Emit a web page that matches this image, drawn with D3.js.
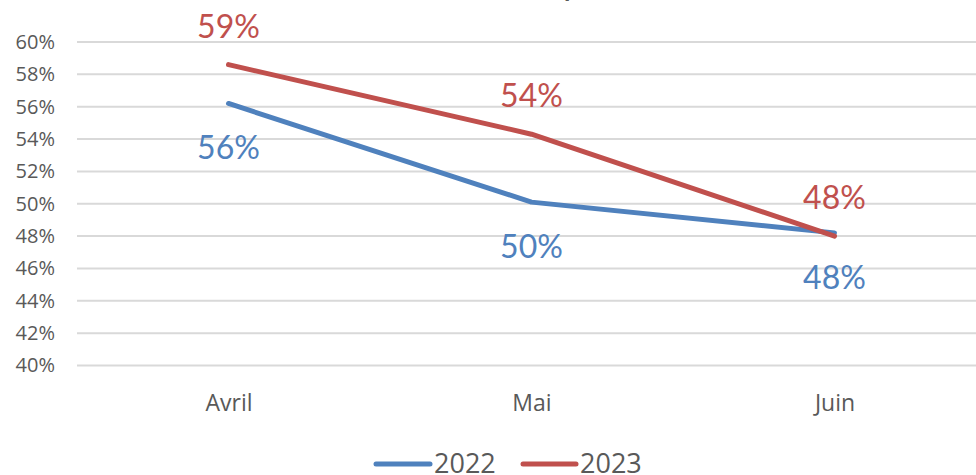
<!DOCTYPE html>
<html>
<head>
<meta charset="utf-8">
<script src="https://cdn.jsdelivr.net/npm/d3@7"></script>
<style>
  body { margin: 0; background: #fff; }
  svg { display: block; font-family: Lato, "Open Sans", sans-serif; }
</style>
</head>
<body>
<div id="chart"></div>
<script>
// chart data
const months = ["Avril", "Mai", "Juin"];
const seriesNames = ["2022", "2023"];
const values2022 = [56.2, 50.1, 48.2];
const values2023 = [58.6, 54.3, 48.0];
const yTicks = [40, 42, 44, 46, 48, 50, 52, 54, 56, 58, 60];
const titleText = "Taux d'occupation";

const width = 976, height = 475;
const colors = { "2022": "#4f81bd", "2023": "#c0504d" };

const svg = d3.select("#chart")
  .append("svg")
  .attr("width", width)
  .attr("height", height);

// scales
const x = d3.scalePoint()
  .domain(months)
  .range([77, 986])
  .padding(0.5);
const y = d3.scaleLinear()
  .domain([40, 60])
  .range([365.5, 42]);

// title, mostly cut off at the top of the picture
const title = svg.append("text")
  .attr("y", -3)
  .attr("fill", "#595959")
  .style("font-size", "26px")
  .style("font-weight", "bold")
  .text(titleText);
const pIdx = titleText.indexOf("p");
const pX = title.node().getStartPositionOfChar(pIdx).x;
title.attr("x", 564 - pX);

// gridlines
svg.append("g")
  .selectAll("line")
  .data(yTicks)
  .enter()
  .append("line")
  .attr("x1", 77)
  .attr("x2", width)
  .attr("y1", d => y(d))
  .attr("y2", d => y(d))
  .attr("stroke", "#d9d9d9")
  .attr("stroke-width", 2);

// y axis labels
const yAxis = svg.append("g")
  .attr("transform", "translate(55,0)")
  .call(d3.axisLeft(y).tickValues(yTicks).tickSize(0).tickPadding(0).tickFormat(d => d + "%"));
yAxis.select(".domain").remove();
yAxis.selectAll("text")
  .attr("fill", "#595959")
  .style("font-size", "20px")
  .style("font-family", "'Open Sans', sans-serif");

// x axis labels
const xAxis = svg.append("g")
  .attr("transform", "translate(0,395)")
  .call(d3.axisBottom(x).tickSize(0).tickPadding(0));
xAxis.select(".domain").remove();
xAxis.selectAll("text")
  .attr("fill", "#595959")
  .style("font-size", "23px")
  .style("font-family", "'Open Sans', sans-serif");

// lines
const series = [
  { name: "2022", values: values2022, labelOffsets: [56, 56, 56] },
  { name: "2023", values: values2023, labelOffsets: [-27, -27, -27] }
];
const line = d3.line()
  .x((d, i) => x(months[i]))
  .y(d => y(d));

series.forEach(s => {
  svg.append("path")
    .datum(s.values)
    .attr("d", line)
    .attr("fill", "none")
    .attr("stroke", colors[s.name])
    .attr("stroke-width", 5)
    .attr("stroke-linecap", "round")
    .attr("stroke-linejoin", "round");
});

// data labels
series.forEach(s => {
  svg.append("g")
    .selectAll("text")
    .data(s.values)
    .enter()
    .append("text")
    .attr("x", (d, i) => x(months[i]))
    .attr("y", (d, i) => y(d) + s.labelOffsets[i])
    .attr("text-anchor", "middle")
    .attr("fill", colors[s.name])
    .style("font-size", "32px")
    .text(d => Math.round(d) + "%");
});

// legend
const legend = svg.append("g");
const legendItems = [
  { name: seriesNames[0], x1: 376, x2: 430, tx: 434 },
  { name: seriesNames[1], x1: 523, x2: 576, tx: 580 }
];
legendItems.forEach(l => {
  legend.append("line")
    .attr("x1", l.x1)
    .attr("x2", l.x2)
    .attr("y1", 464)
    .attr("y2", 464)
    .attr("stroke", colors[l.name])
    .attr("stroke-width", 5)
    .attr("stroke-linecap", "round");
  legend.append("text")
    .attr("x", l.tx)
    .attr("y", 473)
    .attr("fill", "#595959")
    .style("font-size", "27px")
    .style("font-family", "'Open Sans', sans-serif")
    .text(l.name);
});
</script>
</body>
</html>
